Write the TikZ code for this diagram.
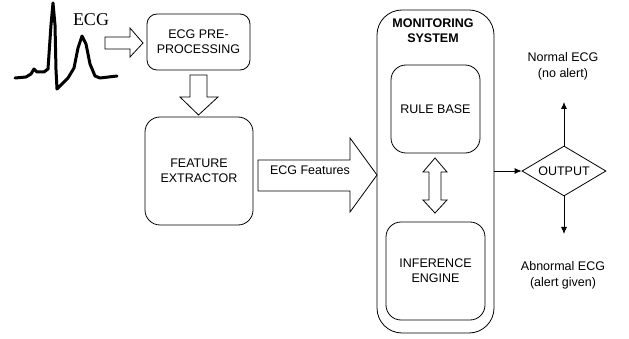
\documentclass[tikz,border=0pt]{standalone}
\usepackage{fontspec}
\setmainfont{Liberation Sans}
\newfontfamily\serifecg{Liberation Serif}
\usetikzlibrary{shapes.geometric,arrows.meta}
\begin{document}
\begin{tikzpicture}[x=1pt,y=-1pt,
  box/.style={draw,line width=0.8pt,rounded corners=#1,inner sep=0pt,align=center,font=\fontsize{12.5}{15}\selectfont},
  hollow/.style={draw,line width=0.8pt,fill=white,line join=miter},
  lbl/.style={align=center,font=\fontsize{12.5}{16}\selectfont,inner sep=0pt},
  conn/.style={line width=0.8pt,-{Latex[length=7pt,width=6pt]}}]
\useasboundingbox (0,0) rectangle (629,339);
% ECG waveform
\draw[line width=3pt,line join=round,line cap=round]
  (15,78) -- (26,77) -- (31,74) -- (34,69) -- (37,72) -- (44,72) -- (48,69)
  -- (51,25) -- (53,3) -- (55,25) -- (56,70) -- (57,89) -- (62,84) -- (68,78)
  -- (74,68) -- (78,48) -- (82,36) -- (86,44) -- (90,64) -- (95,76) -- (100,78)
  -- (117,76);
\node[font=\serifecg\fontsize{18}{18}\selectfont,inner sep=0pt] (ecgt) at (91,20) {ECG};
% boxes
\node[box=10pt,minimum width=103pt,minimum height=56pt] (pre) at (198.5,42) {ECG PRE-\\PROCESSING};
\node[box=15pt,minimum width=108pt,minimum height=108pt] (fe) at (199,171) {FEATURE\\EXTRACTOR};
\node[box=25pt,minimum width=117pt,minimum height=323pt] (mon) at (435.5,171.5) {};
\node[lbl,font=\bfseries\fontsize{12.5}{15}\selectfont] (mont) at (433,31) {MONITORING\\SYSTEM};
\node[box=15pt,minimum width=89pt,minimum height=88pt] (rb) at (435.5,109) {RULE BASE};
\node[box=15pt,minimum width=99pt,minimum height=98pt] (ie) at (435.5,271) {INFERENCE\\ENGINE};
\node[draw,line width=0.8pt,diamond,aspect=1.68,minimum width=84pt,minimum height=50pt,inner sep=0pt,font=\fontsize{12.5}{15}\selectfont] (out) at (564,171) {OUTPUT};
% hollow arrows
\draw[hollow] (105,37) -- (130,37) -- (130,28) -- (143,43) -- (130,57) -- (130,49) -- (105,49) -- cycle;
\draw[hollow] (190,75) -- (207,75) -- (207,97) -- (218,97) -- (198.5,115) -- (180,97) -- (190,97) -- cycle;
\draw[hollow] (258,160) -- (350,160) -- (350,138) -- (377,175) -- (350,212) -- (350,191) -- (258,191) -- cycle;
\node[lbl] (feat) at (310,170) {ECG Features};
\draw[hollow] (435,158) -- (447,172) -- (441,172) -- (441,200) -- (447,200) -- (435,213)
  -- (423,200) -- (429,200) -- (429,172) -- (423,172) -- cycle;
% connectors
\draw[conn] (mon.east |- out.west) -- (out.west);
\coordinate (up) at (564,102);
\coordinate (dn) at (564,234);
\draw[conn] (out.north) -- (up);
\draw[conn] (out.south) -- (dn);
\node[lbl] (norm) at (563,66) {Normal ECG\\(no alert)};
\node[lbl] (abn) at (563,275) {Abnormal ECG\\(alert given)};
\end{tikzpicture}
\end{document}
